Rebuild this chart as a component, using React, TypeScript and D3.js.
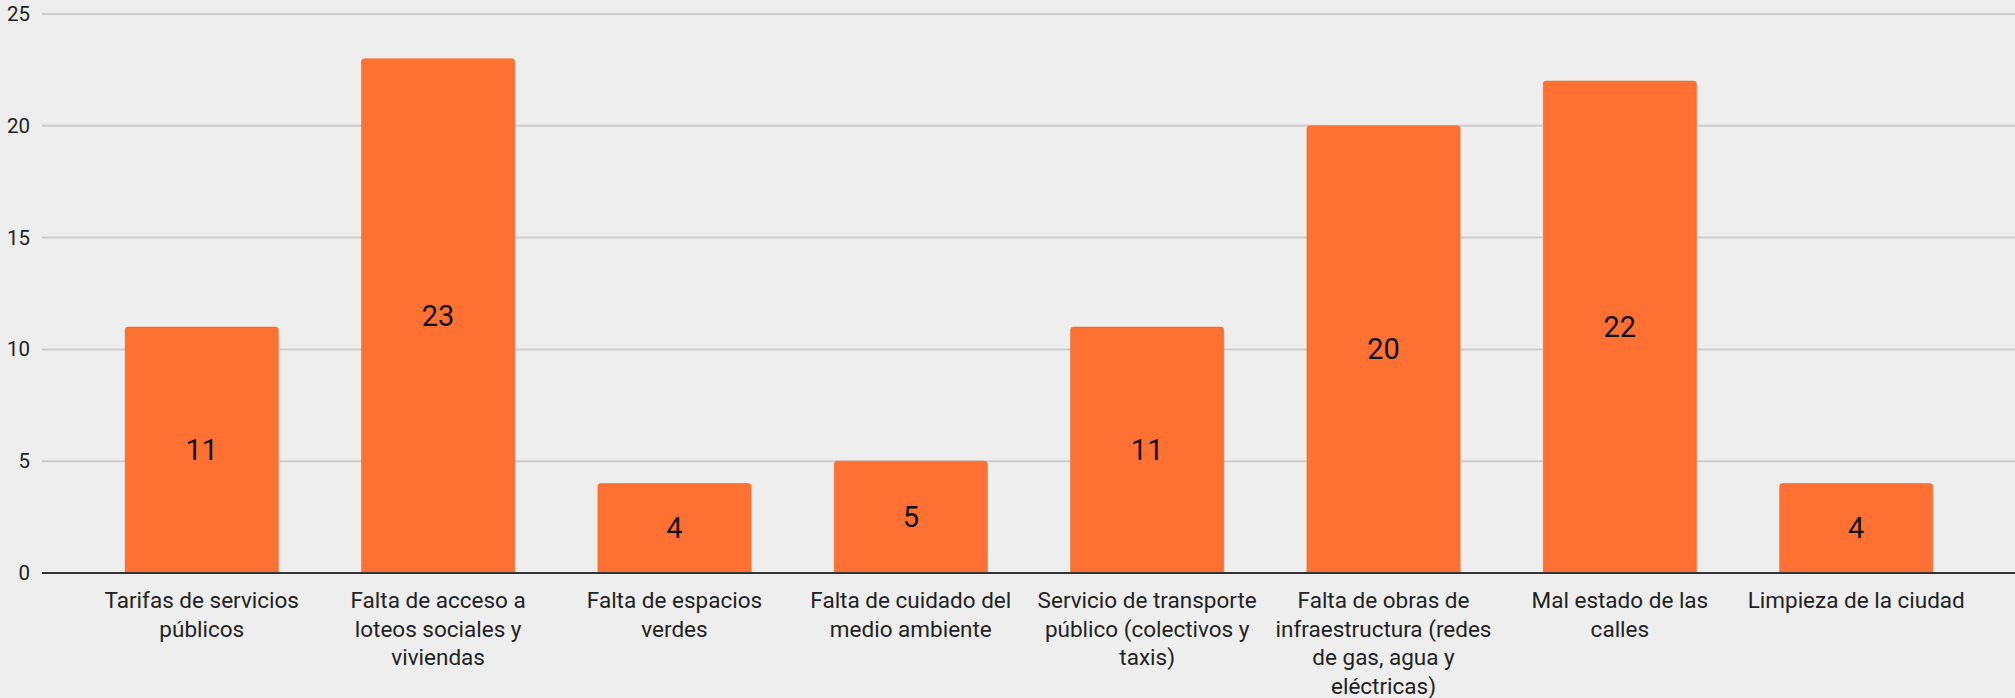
import React from "react";
import * as d3 from "d3";

const categories: string[] = [
  "Tarifas de servicios\npúblicos",
  "Falta de acceso a\nloteos sociales y\nviviendas",
  "Falta de espacios\nverdes",
  "Falta de cuidado del\nmedio ambiente",
  "Servicio de transporte\npúblico (colectivos y\ntaxis)",
  "Falta de obras de\ninfraestructura (redes\nde gas, agua y\neléctricas)",
  "Mal estado de las\ncalles",
  "Limpieza de la ciudad",
];
const values: number[] = [11, 23, 4, 5, 11, 20, 22, 4];
const yTicks: number[] = [0, 5, 10, 15, 20, 25];

const W = 2015;
const H = 698;
const FONT = "Roboto, 'Noto Sans', sans-serif";

function topRoundedRect(x: number, y: number, w: number, h: number, r: number) {
  const rr = Math.min(r, h, w / 2);
  return `M${x},${y + h}V${y + rr}Q${x},${y} ${x + rr},${y}H${x + w - rr}Q${x + w},${y} ${x + w},${y + rr}V${y + h}Z`;
}

export default function App() {
  const x = d3
    .scaleBand<number>()
    .domain(d3.range(categories.length))
    .range([42, 2016])
    .padding(0.352);
  const y = d3.scaleLinear().domain([0, 25]).range([573, 14]);

  return (
    <svg
      width={W}
      height={H}
      style={{ position: "absolute", left: 0, top: 0, background: "#eeeeee" }}
      fontFamily={FONT}
    >
      <rect x={0} y={0} width={W} height={H} fill="#eeeeee" />
      {yTicks.map((t) => (
        <g key={t}>
          {t !== 0 && (
            <line x1={42} x2={W} y1={y(t)} y2={y(t)} stroke="#cccccc" strokeWidth={2} />
          )}
          <text
            x={30}
            y={y(t)}
            textAnchor="end"
            dominantBaseline="central"
            fontSize={20.5}
            fill="#222222"
          >
            {t}
          </text>
        </g>
      ))}
      {values.map((v, i) => {
        const bx = x(i)!;
        const bw = x.bandwidth();
        const top = y(v);
        const h = y(0) - top;
        return (
          <g key={i}>
            <path d={topRoundedRect(bx, top, bw, h, 3)} fill="#ff7033" stroke="#e8692f" strokeWidth={0.6} />
            <text
              x={bx + bw / 2}
              y={top + h / 2}
              textAnchor="middle"
              dominantBaseline="central"
              fontSize={29}
              fill="#111111"
            >
              {v}
            </text>
          </g>
        );
      })}
      <line x1={42} x2={W} y1={y(0)} y2={y(0)} stroke="#333333" strokeWidth={2} />
      {categories.map((c, i) => {
        const cx = x(i)! + x.bandwidth() / 2;
        return (
          <text key={i} x={cx} y={608} textAnchor="middle" fontSize={22.5} fill="#222222">
            {c.split("\n").map((line, j) => (
              <tspan key={j} x={cx} dy={j === 0 ? 0 : 28.6}>
                {line}
              </tspan>
            ))}
          </text>
        );
      })}
    </svg>
  );
}
